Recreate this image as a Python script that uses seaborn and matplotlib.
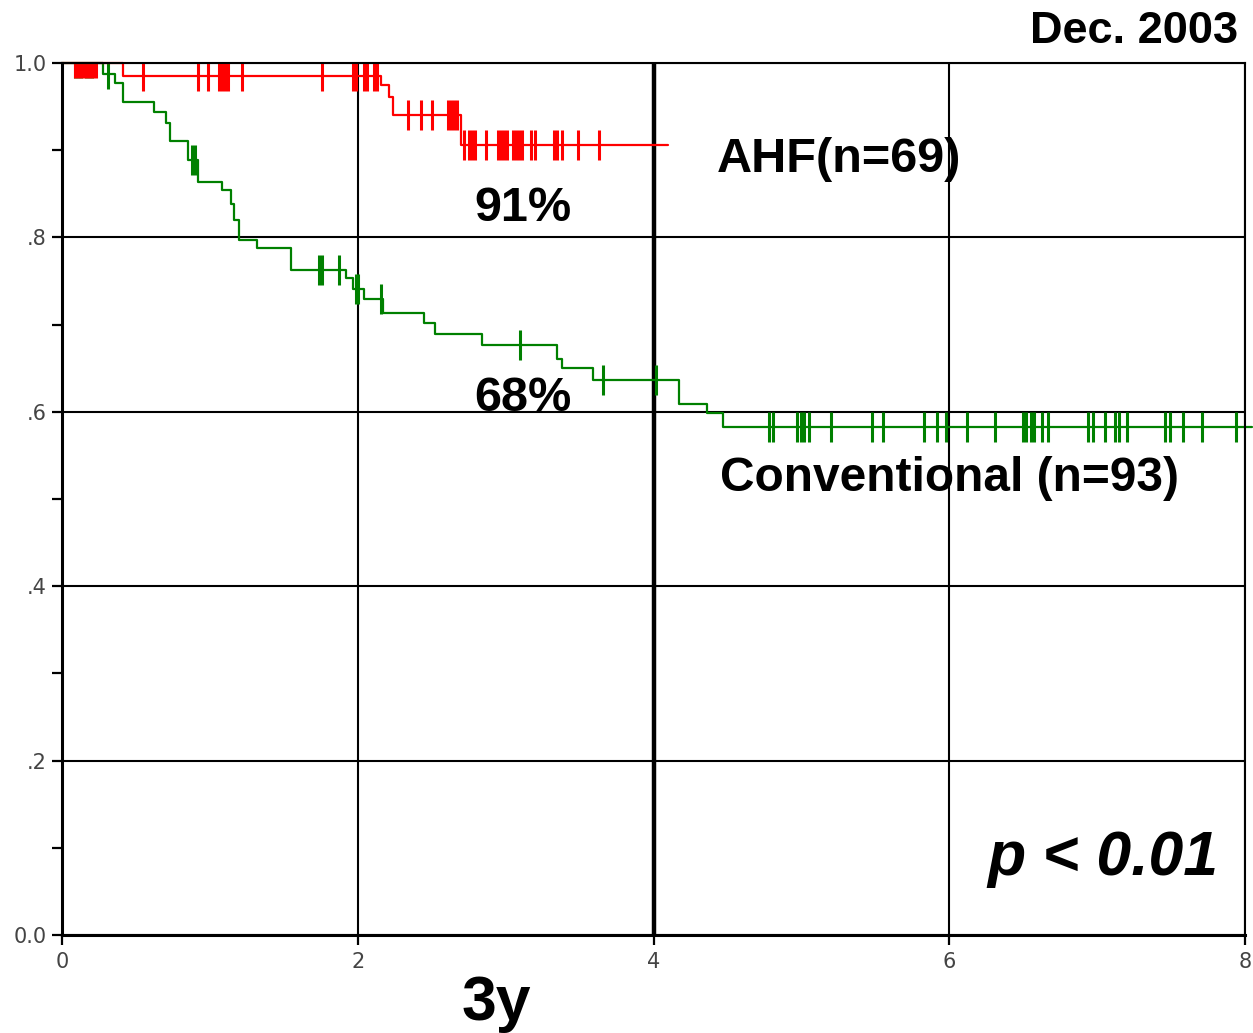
"""
Kaplan-Meier survival: AHF vs conventional treatment (Dec. 2003).
"""
import numpy as np
import pandas as pd
import matplotlib
matplotlib.use("Agg")
import matplotlib.pyplot as plt
import seaborn as sns

# ── Data (years, cumulative survival) ──
ahf_times = [0.0, 0.41, 2.16, 2.21, 2.24, 2.70, 4.10]
ahf_surv = [1.0, 0.985, 0.975, 0.961, 0.940, 0.906, 0.906]
ahf_censored = [
    0.09, 0.11, 0.13, 0.15, 0.17, 0.19, 0.21, 0.23, 0.55, 0.92, 0.99,
    1.06, 1.08, 1.10, 1.12, 1.22, 1.76, 1.97, 1.99, 2.04, 2.06, 2.11,
    2.13, 2.34, 2.43, 2.50, 2.61, 2.63, 2.65, 2.67, 2.72, 2.75, 2.77,
    2.79, 2.87, 2.95, 2.97, 2.99, 3.01, 3.05, 3.07, 3.09, 3.11, 3.17,
    3.20, 3.33, 3.35, 3.38, 3.49, 3.63,
]

conv_times = [
    0.0, 0.28, 0.36, 0.41, 0.62, 0.70, 0.73, 0.85, 0.92, 1.08, 1.14,
    1.16, 1.20, 1.32, 1.55, 1.92, 1.97, 2.04, 2.17, 2.45, 2.52, 2.84,
    3.35, 3.38, 3.59, 4.17, 4.36, 4.47, 8.05,
]
conv_surv = [
    1.0, 0.987, 0.977, 0.955, 0.944, 0.931, 0.910, 0.889, 0.864, 0.854,
    0.838, 0.820, 0.797, 0.788, 0.763, 0.753, 0.741, 0.729, 0.713, 0.702,
    0.689, 0.677, 0.661, 0.650, 0.636, 0.609, 0.599, 0.583, 0.583,
]
conv_censored = [
    0.09, 0.11, 0.13, 0.16, 0.18, 0.20, 0.31, 0.88, 0.90, 1.74, 1.76,
    1.87, 1.99, 2.00, 2.16, 3.10, 3.66, 4.02, 4.78, 4.81, 4.97, 5.00,
    5.02, 5.05, 5.20, 5.48, 5.55, 5.83, 5.92, 5.98, 6.12, 6.31, 6.50,
    6.52, 6.55, 6.57, 6.63, 6.67, 6.94, 6.97, 7.05, 7.12, 7.15, 7.20,
    7.46, 7.49, 7.58, 7.71, 7.94,
]

GROUPS = ["Conventional", "AHF"]
PALETTE = {"AHF": "#ff0000", "Conventional": "#008000"}

x_ticks = [0, 2, 4, 6, 8]
x_labels = ["0", "2", "4", "6", "8"]
y_ticks = [0.0, 0.2, 0.4, 0.6, 0.8, 1.0]
y_labels = ["0.0", ".2", ".4", ".6", ".8", "1.0"]


def surv_at(times, surv, t):
    idx = np.searchsorted(times, t, side="right") - 1
    return np.asarray(surv)[idx]


curves = pd.concat([
    pd.DataFrame({"time": ahf_times, "survival": ahf_surv, "group": "AHF"}),
    pd.DataFrame({"time": conv_times, "survival": conv_surv, "group": "Conventional"}),
], ignore_index=True)

marks = pd.concat([
    pd.DataFrame({"time": ahf_censored,
                  "survival": surv_at(ahf_times, ahf_surv, ahf_censored),
                  "group": "AHF"}),
    pd.DataFrame({"time": conv_censored,
                  "survival": surv_at(conv_times, conv_surv, conv_censored),
                  "group": "Conventional"}),
], ignore_index=True)

# ── Plot ───────────────────────────────────────────────────────────
sns.set_style("white")
plt.rcParams["font.family"] = ["Liberation Sans", "DejaVu Sans"]

fig = plt.figure(figsize=(12.53, 10.33), dpi=100)
ax = fig.add_axes([62 / 1253, 1 - 935 / 1033, (1245 - 62) / 1253, (935 - 63) / 1033])
ax.set_axisbelow(True)

for g in GROUPS:
    sns.lineplot(
        data=curves[curves["group"] == g], x="time", y="survival",
        color=PALETTE[g], drawstyle="steps-post", estimator=None, sort=False,
        linewidth=1.6, legend=False, ax=ax, clip_on=False,
    )
    sns.scatterplot(
        data=marks[marks["group"] == g], x="time", y="survival",
        color=PALETTE[g], marker="|", s=470, linewidth=2.2,
        legend=False, ax=ax,
    )

ax.set_xlim(0, 8)
ax.set_ylim(0, 1.0)
ax.set_xticks(x_ticks)
ax.set_xticklabels(x_labels)
ax.set_yticks(y_ticks)
ax.set_yticklabels(y_labels)
ax.set_yticks([0.1, 0.3, 0.5, 0.7, 0.9], minor=True)
ax.set_xlabel("")
ax.set_ylabel("")

ax.grid(True, which="major", color="black", linewidth=1.5)
ax.xaxis.get_gridlines()[2].set_linewidth(3.2)
for side, spine in ax.spines.items():
    spine.set_visible(True)
    spine.set_color("black")
    spine.set_linewidth(2.2 if side in ("left", "bottom") else 1.5)

ax.tick_params(axis="both", which="both", direction="out", length=7,
               width=1.6, color="black", labelsize=15, labelcolor="#444444",
               left=True, bottom=True)
ax.tick_params(axis="x", pad=5)
ax.tick_params(axis="y", pad=4)
for lab in ax.get_xticklabels() + ax.get_yticklabels():
    lab.set_family("DejaVu Sans")

# ── Annotations ────────────────────────────────────────────────────
bold = dict(fontweight="bold", color="black", va="baseline")
ax.text(4.43, 0.875, "AHF(n=69)", fontsize=35, **bold)
ax.text(2.79, 0.819, "91%", fontsize=35, **bold)
ax.text(2.79, 0.601, "68%", fontsize=35, **bold)
ax.text(4.45, 0.509, "Conventional (n=93)", fontsize=34.5, **bold)
ax.text(6.26, 0.069, "p < 0.01", fontsize=45, fontstyle="italic", **bold)

fig.text(1238 / 1253, 1 - 43 / 1033, "Dec. 2003", fontsize=32.5, ha="right", **bold)
fig.text(496 / 1253, 1 - 1020 / 1033, "3y", fontsize=45, ha="center", **bold)

fig.savefig("out.png", dpi=100)
plt.close(fig)
